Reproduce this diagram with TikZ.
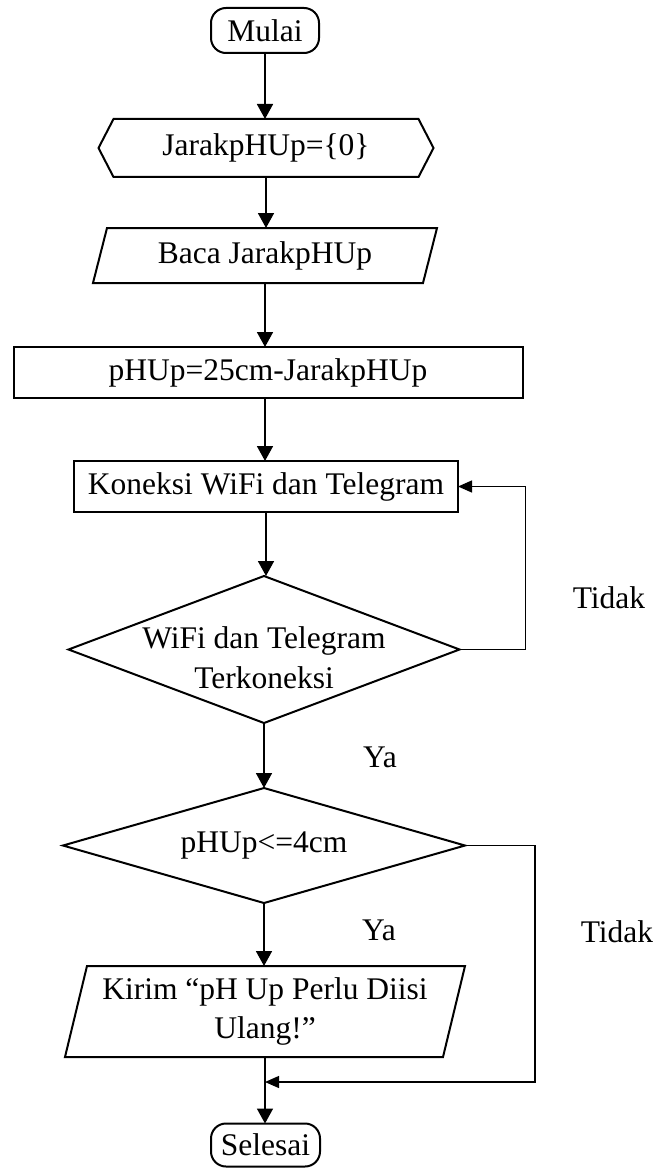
\documentclass[tikz,border=0pt]{standalone}
\usepackage{fontspec}
\setmainfont{Liberation Serif}
\usetikzlibrary{arrows.meta,calc}

\tikzset{
  txt/.style={font=\fontsize{31.5}{39.5}\selectfont, align=center,
              inner sep=0pt, outer sep=0pt},
  frame/.style={line width=2pt, line join=miter},
  flow/.style={line width=1.7pt, -{Triangle[length=15pt,width=16pt]}},
  back/.style={line width=1.3pt, -{Triangle[length=14pt,width=12pt]}},
}

\begin{document}
\begin{tikzpicture}[x=1pt, y=-1pt]
  \useasboundingbox (0,0) rectangle (660,1169);

  % terminal: start
  \node[txt, minimum width=108pt, minimum height=45pt] (start) at (265,30.5) {\raisebox{-1.5pt}{Mulai}};
  \draw[frame, rounded corners=15pt] (start.south west) rectangle (start.north east);

  % preparation (hexagon)
  \node[txt, minimum width=335pt, minimum height=58pt] (init) at (266,148) {\raisebox{3pt}{JarakpHUp=\{0\}}};
  \draw[frame] (init.west) -- ($(init.north west)+(15,0)$) -- ($(init.north east)+(-15,0)$)
    -- (init.east) -- ($(init.south east)+(-15,0)$) -- ($(init.south west)+(15,0)$) -- cycle;

  % input (parallelogram)
  \node[txt, minimum width=344pt, minimum height=55pt] (read) at (265,255.5) {Baca JarakpHUp};
  \draw[frame] ($(read.north west)+(14,0)$) -- (read.north east)
    -- ($(read.south east)+(-14,0)$) -- (read.south west) -- cycle;

  % process
  \node[txt, draw, frame, minimum width=509pt, minimum height=51pt] (calc) at (268,372.5)
    {\raisebox{-5pt}{pHUp=25cm-JarakpHUp}};

  % process: connect
  \node[txt, draw, frame, minimum width=384pt, minimum height=51pt] (conn) at (266,486.5)
    {\raisebox{-4pt}{Koneksi WiFi dan Telegram}};

  % decision 1
  \node[txt, minimum width=391pt, minimum height=147pt,
        label={[txt, yshift=-8pt]center:WiFi dan Telegram\\Terkoneksi}] (chk) at (264,649.5) {};
  \draw[frame] (chk.north) -- (chk.east) -- (chk.south) -- (chk.west) -- cycle;

  % decision 2
  \node[txt, minimum width=402pt, minimum height=115pt] (lvl) at (264,845.5) {pHUp<=4cm};
  \draw[frame] (lvl.north) -- (lvl.east) -- (lvl.south) -- (lvl.west) -- cycle;

  % output (parallelogram)
  \node[txt, minimum width=400pt, minimum height=91pt] (send) at (265,1011.5)
    {Kirim “pH Up Perlu Diisi\\Ulang!”};
  \draw[frame] ($(send.north west)+(22,0)$) -- (send.north east)
    -- ($(send.south east)+(-22,0)$) -- (send.south west) -- cycle;

  % terminal: end
  \node[txt, minimum width=109pt, minimum height=43pt] (stop) at (265.5,1145) {Selesai};
  \draw[frame, rounded corners=15pt] (stop.south west) rectangle (stop.north east);

  % branch labels
  \node[txt] (no1)  at (609,598) {Tidak};
  \node[txt] (yes1) at (380,757) {Ya};
  \node[txt] (yes2) at (379,930) {Ya};
  \node[txt] (no2)  at (617,932) {Tidak};

  % main flow
  \draw[flow] (start.south) -- (start.south |- init.north);
  \draw[flow] (init.south) -- (init.south |- read.north);
  \draw[flow] (read.south) -- (read.south |- calc.north);
  \draw[flow] (read.south |- calc.south) -- (read.south |- conn.north);
  \draw[flow] (conn.south) -- (conn.south |- chk.north);
  \draw[flow] (chk.south) -- (lvl.north);
  \draw[flow] (lvl.south) -- (lvl.south |- send.north);
  \draw[flow] (send.south) -- (send.south |- stop.north);

  % loop back while not connected
  \draw[back] (chk.east) -- ++(66,0) |- (conn.east);

  % skip output when level is sufficient
  \coordinate (join) at (265,1082);
  \draw[back] (lvl.east) -- ++(70,0) |- (join);
\end{tikzpicture}
\end{document}
